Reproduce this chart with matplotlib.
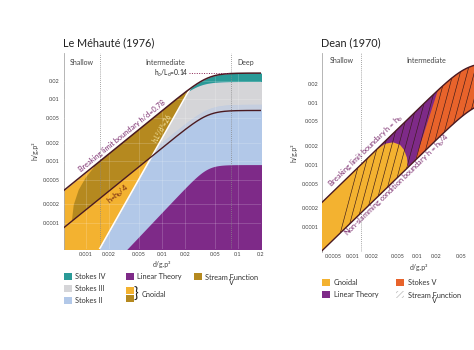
import numpy as np
import matplotlib
matplotlib.use("Agg")
import matplotlib.pyplot as plt
from matplotlib.patches import Polygon, Rectangle

plt.rcParams["font.family"] = ["Lato", "DejaVu Sans"]
plt.rcParams["mathtext.fontset"] = "custom"
plt.rcParams["mathtext.rm"] = "Lato"
plt.rcParams["mathtext.it"] = "Lato:italic"

# ---------------- Le Méhauté (1976) ----------------
LM_XLIM = (0.00052, 0.2)
LM_YLIM = (3.8e-5, 0.056)
lm_xticks = [0.001, 0.002, 0.005, 0.01, 0.02, 0.05, 0.1, 0.2]
lm_yticks = [0.0001, 0.0002, 0.0005, 0.001, 0.002, 0.005, 0.01, 0.02]
lm_zones = [0.00155, 0.08]            # shallow | intermediate | deep
# saturating curves: h = a*d^p levelling off at hmax (sharpness n)
lm_breaking = [0.65, 1.0, 0.0265, 4]
lm_quarter = [0.1625, 1.0, 0.0066, 4]
lm_stokes4_low = [0.65, 1.0, 0.0194, 4]
lm_stokes3_low = [0.203, 1.0, 0.0083, 4]
lm_linear_top = [0.059, 1.3, 0.00088, 4]
lm_ursell_d = [0.00152, 0.0238]       # h.L^2/d^3 = 26
lm_ursell_h = [3.8e-5, 0.0154]
lm_arc_d = [0.000658, 0.000698, 0.000811, 0.001, 0.00127]
lm_arc_h = [1.04e-4, 1.96e-4, 3.43e-4, 5.37e-4, 7.8e-4]
lm_steep_d = [0.0225, 0.075]          # h0/L0 = 0.14 marker
lm_legend = ["Stokes IV", "Stokes III", "Stokes II", "Linear Theory", "Stream Function\nV"]

# ---------------- Dean (1970) ----------------
DEAN_XLIM = (0.000328, 0.365)
DEAN_YLIM = (4.0e-5, 0.063)
dean_xticks = [0.0005, 0.001, 0.002, 0.005, 0.01, 0.02, 0.05]
dean_yticks = [0.0001, 0.0002, 0.0005, 0.001, 0.002, 0.005, 0.01, 0.02]
dean_shallow = 0.00135
dean_breaking = [0.75, 1.0, 0.045, 3]
dean_slamming = [0.125, 1.0, 0.011, 3]
dean_cnoidal_d = [0.00248, 0.0032, 0.00427, 0.00548, 0.00634, 0.00705, 0.00731]
dean_cnoidal_h = [0.00182, 0.00218, 0.0023, 0.0021, 0.00174, 0.0013, 0.0009]
dean_stokes5_d = [0.0094, 0.0208]
dean_stokes5_h = [0.00116, 0.0144]
dean_legend = ["Cnoidal", "Linear Theory", "Stokes V", "Stream Function\nV"]

C_CNOIDAL = "#f3b230"
C_STREAM = "#b5891f"
C_S4 = "#2a9a97"
C_S3 = "#d5d5d8"
C_S2 = "#b2c8e8"
C_S2S3 = "#c5cedf"
C_LIN = "#7e2a88"
C_S5 = "#e8632b"
C_EDGE = "#4a1a22"
C_TXT = "#444444"


def sat(d, c):
    a, p, hmax, n = c
    lin = a * d ** p
    return lin / (1 + (lin / hmax) ** n) ** (1 / n)


def loglin(d, xs, ys):
    p = np.log10(ys[1] / ys[0]) / np.log10(xs[1] / xs[0])
    return ys[0] * (d / xs[0]) ** p


def angle(ax, d0, h0, d1, h1):
    (x0, y0), (x1, y1) = ax.transData.transform([(d0, h0), (d1, h1)])
    return np.degrees(np.arctan2(y1 - y0, x1 - x0))


def style(ax, xlim, ylim, xt, yt, ypad):
    ax.set_xscale("log")
    ax.set_yscale("log")
    ax.set_xlim(*xlim)
    ax.set_ylim(*ylim)
    ax.set_xticks(xt, [f"{v:g}" for v in xt])
    ax.set_yticks(yt, [f"{v:g}" for v in yt])
    ax.minorticks_off()
    ax.tick_params(length=0, labelsize=4, colors=C_TXT)
    ax.tick_params(axis="y", pad=ypad)
    ax.tick_params(axis="x", pad=2)
    for s in ("top", "right", "bottom"):
        ax.spines[s].set_visible(False)
    ax.spines["left"].set_color("#aaaaaa")
    ax.spines["left"].set_linewidth(0.6)
    ax.set_xlabel("d/g.p²", fontsize=5, color=C_TXT, labelpad=3)
    ax.set_ylabel("h/g.p²", fontsize=5, color=C_TXT, labelpad=3)


W, H = 474, 350
fig = plt.figure(figsize=(W / 100, H / 100), dpi=100)


def fx(x, y):
    return x / W, 1 - y / H


# ======== left panel ========
ax = fig.add_axes([64 / W, 1 - 249 / H, 197 / W, 196 / H])
style(ax, LM_XLIM, LM_YLIM, lm_xticks, lm_yticks, 3)
d = np.logspace(np.log10(LM_XLIM[0]) - 0.05, np.log10(LM_XLIM[1]) + 0.05, 1500)
y0 = LM_YLIM[0] * 0.5
brk = sat(d, lm_breaking)
qtr = sat(d, lm_quarter)
s4 = sat(d, lm_stokes4_low)
s3 = sat(d, lm_stokes3_low)
lin = sat(d, lm_linear_top)
urs = loglin(d, lm_ursell_d, lm_ursell_h)

# junction of the Ursell line with the breaking curve
j = np.argmax(urs > brk)
dj, hj = d[j], brk[j]

kw = dict(lw=0, interpolate=True)
low = np.maximum(urs, y0)
ax.fill_between(d, low, brk, where=low < brk, color=C_CNOIDAL, **kw)
up = np.minimum(brk, urs)
ax.fill_between(d, y0, up, where=up > y0, color=C_S2, **kw)
ax.fill_between(d, qtr, np.minimum(s3, urs), where=np.minimum(s3, urs) > qtr, color=C_S2S3, **kw)
ax.fill_between(d, s3, np.minimum(s4, urs), where=np.minimum(s4, urs) > s3, color=C_S3, **kw)
ax.fill_between(d, s4, up, where=up > s4, color=C_S4, **kw)
ax.fill_between(d, y0, lin, where=lin > y0, color=C_LIN, **kw)

# stream function zone
m_up = (d > lm_arc_d[-1]) & (d < dj)
m_lo = (d > lm_arc_d[0]) & (d < dj)
verts = list(zip(lm_arc_d, lm_arc_h))
verts += list(zip(d[m_up], brk[m_up]))
verts += [(dj, hj)]
verts += list(zip(d[m_lo][::-1], np.maximum(qtr, urs)[m_lo][::-1]))
ax.add_patch(Polygon(verts, closed=True, facecolor=C_STREAM, lw=0, zorder=2))

# grid
for v in lm_xticks:
    ax.axvline(v, color="white", lw=0.4, alpha=0.3, zorder=3)
for v in lm_yticks:
    ax.axhline(v, color="white", lw=0.4, alpha=0.3, zorder=3)
for v in lm_zones:
    ax.axvline(v, color="#888888", lw=0.6, ls=(0, (1, 1.5)), zorder=4)

mu = d <= dj
ax.plot(d[mu], urs[mu], color="white", lw=1.1, zorder=5)
ax.plot(d, brk, color=C_EDGE, lw=1.1, zorder=6)
ax.plot(d, qtr, color=C_EDGE, lw=1.0, zorder=6)
ax.plot(lm_steep_d, [lm_breaking[2]] * 2, color="#8b2252", lw=0.7, ls=(0, (1, 1.5)), zorder=6)

tk = dict(fontsize=5, color=C_TXT, ha="center", va="center", transform=ax.get_xaxis_transform())
ax.text(np.sqrt(LM_XLIM[0] * lm_zones[0]), 0.95, "Shallow", **tk)
ax.text(np.sqrt(lm_zones[0] * lm_zones[1]), 0.95, "Intermediate", **tk)
ax.text(np.sqrt(lm_zones[1] * LM_XLIM[1]), 0.95, "Deep", **tk)
ax.text(lm_steep_d[0], lm_breaking[2], r"h$_\mathrm{o}$/L$_\mathrm{o}$=0.14", fontsize=4.8,
        color="#222222", ha="right", va="center")

a_b = angle(ax, 0.001, 0.00065, 0.01, 0.0065)
ax.text(0.00303, 0.00256, "Breaking limit boundary h/d=0.78", fontsize=5.3, color="#7b2d6e",
        rotation=a_b, ha="center", va="center", rotation_mode="anchor")
ax.text(0.00264, 0.000285, r"h=h$_\mathrm{b}$/4", fontsize=5.3, color="#6b1d10",
        rotation=a_b, ha="center", va="center", rotation_mode="anchor")
a_u = angle(ax, lm_ursell_d[0], lm_ursell_h[0], lm_ursell_d[1], lm_ursell_h[1])
ax.text(0.01, 0.00346, "h.L²/d³=26", fontsize=4.8, color="#f6e8a6",
        rotation=a_u, ha="center", va="center", rotation_mode="anchor")

# ======== right panel ========
bx = fig.add_axes([321.7 / W, 1 - 251.7 / H, 195 / W, 198.7 / H])
style(bx, DEAN_XLIM, DEAN_YLIM, dean_xticks, dean_yticks, 2)
d2 = np.logspace(np.log10(DEAN_XLIM[0]) - 0.05, np.log10(DEAN_XLIM[1]) + 0.05, 800)
upb = sat(d2, dean_breaking)
lob = sat(d2, dean_slamming)
band = Polygon(list(zip(d2, upb)) + list(zip(d2[::-1], lob[::-1])), closed=True,
               facecolor=C_LIN, lw=0, zorder=2)
bx.add_patch(band)

far_lo, far_hi = 1e-7, 10.0
cn = [(DEAN_XLIM[0] * 0.5, far_lo), (DEAN_XLIM[0] * 0.5, far_hi), (dean_cnoidal_d[0], far_hi)]
cn += list(zip(dean_cnoidal_d, dean_cnoidal_h)) + [(dean_cnoidal_d[-1], far_lo)]
p = bx.add_patch(Polygon(cn, closed=True, facecolor=C_CNOIDAL, lw=0, zorder=3))
p.set_clip_path(band)

ld = np.log10(dean_stokes5_d)
lh = np.log10(dean_stokes5_h)
ts = np.array([-3.0, 4.0])
e_d = 10 ** (ld[0] + ts * (ld[1] - ld[0]))
e_h = 10 ** (lh[0] + ts * (lh[1] - lh[0]))
s5 = [(e_d[0], e_h[0]), (e_d[1], e_h[1]), (1e3, e_h[1]), (1e3, e_h[0])]
p = bx.add_patch(Polygon(s5, closed=True, facecolor=C_S5, lw=0, zorder=3))
p.set_clip_path(band)

# stream function hatching (steep lines)
aw, ah = 195.0, 198.7
slope = 0.268 * ah / aw
for x0 in np.arange(0.0697, 1.3, 7.0 / aw):
    ln, = bx.plot([x0, x0 + slope], [0, 1], transform=bx.transAxes, color="#3a1a1a",
                  lw=0.45, zorder=4)
    ln.set_clip_path(band)

bx.axvline(dean_shallow, color="#888888", lw=0.6, ls=(0, (1, 1.5)), zorder=1)
bx.plot(d2, upb, color=C_EDGE, lw=1.0, zorder=6)
bx.plot(d2, lob, color=C_EDGE, lw=1.0, zorder=6)

tk["transform"] = bx.get_xaxis_transform()
bx.text(np.sqrt(DEAN_XLIM[0] * dean_shallow), 0.96, "Shallow", **tk)
bx.text(0.014, 0.96, "Intermediate", **tk)
a_d = angle(bx, 0.001, 0.00075, 0.01, 0.0075)
bx.text(0.00161, 0.00168, r"Breaking limit boundary h = h$_\mathrm{b}$", fontsize=5.3,
        color="#7b2d6e", rotation=a_d, ha="center", va="center", rotation_mode="anchor")
bx.text(0.005, 0.000477, r"Non-slamming condition boundary h = h$_\mathrm{b}$/4", fontsize=5.3,
        color="#7b2d6e", rotation=a_d, ha="center", va="center", rotation_mode="anchor")

# titles
fig.text(*fx(63, 43), "Le Méhauté (1976)", fontsize=7.8, color="#222222", va="center")
fig.text(*fx(321, 43), "Dean (1970)", fontsize=7.8, color="#222222", va="center")


# legends
def swatch(x, y, color, hatch=None):
    fig.patches.append(Rectangle(fx(x, y + 7), 8 / W, 7 / H, transform=fig.transFigure,
                                 facecolor=color, edgecolor="#bbbbbb" if hatch else "none",
                                 lw=0.0, hatch=hatch))


lt = dict(fontsize=5.3, color="#333333", va="center", ha="left", multialignment="center",
          linespacing=0.8)
lm_cols = [C_S4, C_S3, C_S2, C_LIN, C_STREAM]
lm_pos = [(64, 273), (64, 285), (64, 297), (126, 273), (194, 273)]
for name, col, (x, y) in zip(lm_legend, lm_cols, lm_pos):
    swatch(x, y, col)
    va = "top" if "\n" in name else "center"
    fig.text(*fx(x + 11, y + (0.5 if va == "top" else 3.5)), name, **{**lt, "va": va})
swatch(126, 287, C_CNOIDAL)
swatch(126, 295, C_STREAM)
fig.text(*fx(133, 294.5), "}", fontsize=11, color="#222222", va="center", ha="left")
fig.text(*fx(142, 294.5), "Cnoidal", **lt)

plt.rcParams["hatch.color"] = "#bbbbbb"
plt.rcParams["hatch.linewidth"] = 0.5
dean_cols = [C_CNOIDAL, C_LIN, C_S5, "white"]
dean_pos = [(322, 279), (322, 291), (396, 279), (396, 291)]
for name, col, (x, y) in zip(dean_legend, dean_cols, dean_pos):
    swatch(x, y, col, hatch="//////" if col == "white" else None)
    va = "top" if "\n" in name else "center"
    fig.text(*fx(x + 12, y + (0.5 if va == "top" else 3.5)), name, **{**lt, "va": va})

fig.savefig("out.png", dpi=100)
